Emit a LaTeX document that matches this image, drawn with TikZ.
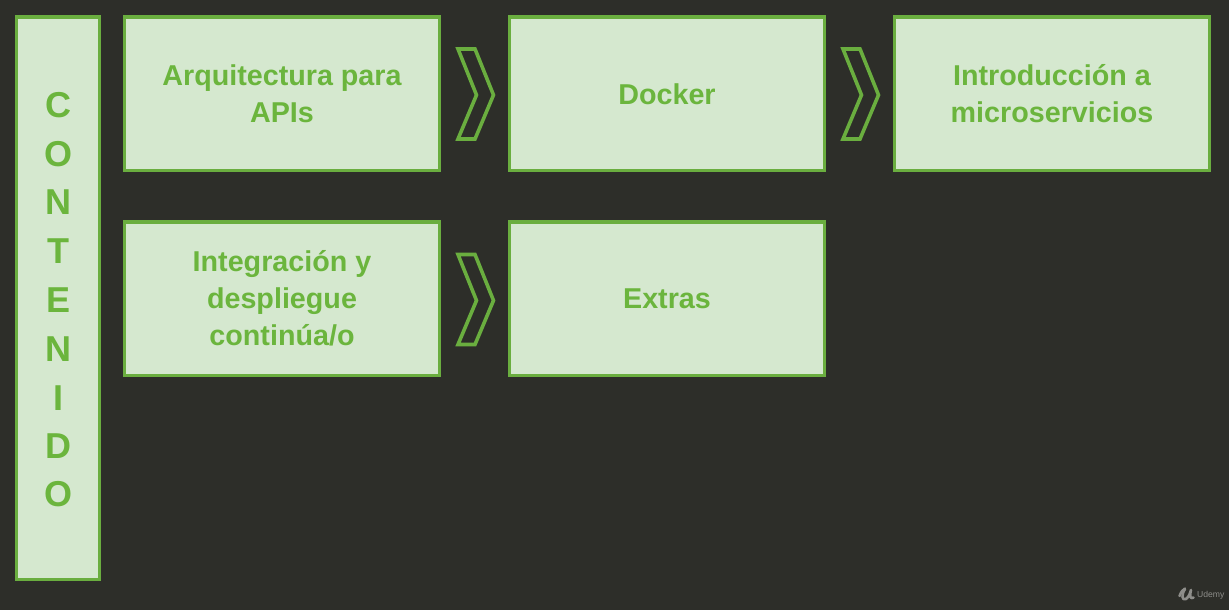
\documentclass[tikz,border=0pt]{standalone}
\usepackage{fontspec}
\setmainfont{Liberation Sans}
\definecolor{bgdark}{HTML}{2D2E29}
\definecolor{boxfill}{HTML}{D5E8CF}
\definecolor{boxline}{HTML}{6AAE3F}
\definecolor{boxtext}{HTML}{6BB53D}
\definecolor{markgrey}{HTML}{8E8E8A}
\tikzset{
  x=1pt,y=-1pt,
  card/.style={draw=boxline,fill=boxfill,line width=3.5pt,minimum width=315pt,minimum height=153.5pt,
    outer sep=0pt,anchor=north west,inner sep=0pt,align=center,text=boxtext,
    font=\fontsize{28.7}{37}\selectfont\bfseries},
  sidebar/.style={draw=boxline,fill=boxfill,line width=3.5pt,minimum width=83pt,minimum height=562.5pt,
    outer sep=0pt,anchor=north west,inner sep=0pt},
  sideletter/.style={text=boxtext,font=\fontsize{36}{36}\selectfont\bfseries,inner sep=0pt,anchor=center},
  chevronshape/.style={draw=boxline,line width=3.6pt,line join=miter},
  brandtext/.style={text=markgrey,font=\fontsize{8.6}{10}\selectfont,inner sep=0pt,anchor=west},
  brandmark/.style={draw=markgrey,line width=2.6pt,line cap=round,line join=round}
}
\newcommand{\chevronat}[1]{%
  \draw[chevronshape,shift={#1}] (0,0) -- (17,0) -- (35.5,46) -- (17,90) -- (0,90) -- (18.5,46) -- cycle;}
\begin{document}
\begin{tikzpicture}
\useasboundingbox (0,0) rectangle (1229,610);
\fill[bgdark] (0,0) rectangle (1229,610);
\node[sidebar] (side) at (16.5,17) {};
\node[sideletter] (l1) at (58.5,105) {C};
\node[sideletter] (l2) at (58.5,154) {O};
\node[sideletter] (l3) at (58.5,202.5) {N};
\node[sideletter] (l4) at (58.5,251.5) {T};
\node[sideletter] (l5) at (58.5,300.5) {E};
\node[sideletter] (l6) at (58.5,349.5) {N};
\node[sideletter] (l7) at (58.5,398) {I};
\node[sideletter] (l8) at (58.5,446.5) {D};
\node[sideletter] (l9) at (58.5,494.5) {O};
\node[card] (a) at (124.5,17) {Arquitectura para\\APIs};
\node[card] (b) at (509.5,17) {Docker};
\node[card] (c) at (894.5,17) {Introducción a\\microservicios};
\node[card] (d) at (124.5,222) {Integración y\\despliegue\\continúa/o};
\node[card] (e) at (509.5,222) {Extras};
\chevronat{(458,49)}
\chevronat{(843,49)}
\chevronat{(458,254.5)}
\draw[brandmark] (1179.5,596) .. controls (1181,592) and (1183,589.5) .. (1185,588.5);
\draw[brandmark] (1185,589) .. controls (1181,595) and (1182,601) .. (1186,599) .. controls (1189,597) and (1190,593) .. (1191,590) .. controls (1189.5,595) and (1190,600) .. (1193.5,597.5);
\node[brandtext] (brand) at (1197,595) {Udemy};
\end{tikzpicture}
\end{document}
